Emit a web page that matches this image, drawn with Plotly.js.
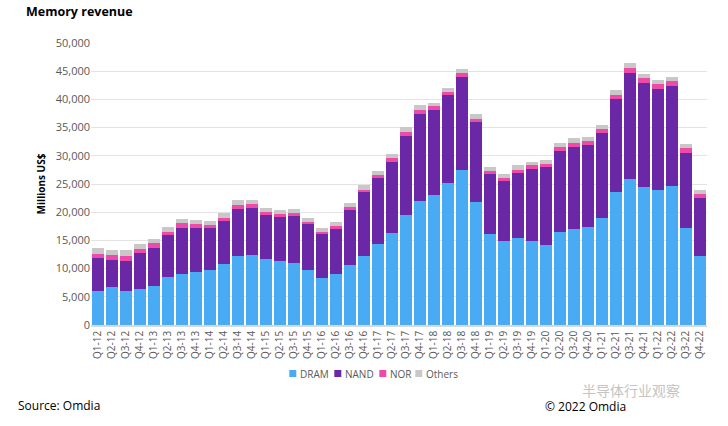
<!DOCTYPE html>
<html>
<head>
<meta charset="utf-8">
<script src="https://cdn.plot.ly/plotly-3.0.1.min.js"></script>
<style>html,body{margin:0;padding:0;background:#fff}#chart{width:728px;height:426px}</style>
</head>
<body>
<div id="chart"></div>
<script>
const quarters = ["Q1-12","Q2-12","Q3-12","Q4-12","Q1-13","Q2-13","Q3-13","Q4-13","Q1-14","Q2-14","Q3-14","Q4-14",
  "Q1-15","Q2-15","Q3-15","Q4-15","Q1-16","Q2-16","Q3-16","Q4-16","Q1-17","Q2-17","Q3-17","Q4-17",
  "Q1-18","Q2-18","Q3-18","Q4-18","Q1-19","Q2-19","Q3-19","Q4-19","Q1-20","Q2-20","Q3-20","Q4-20",
  "Q1-21","Q2-21","Q3-21","Q4-21","Q1-22","Q2-22","Q3-22","Q4-22"];
const dram = [6000,6750,6100,6450,6850,8450,9100,9450,9750,10850,12250,12350,
  11650,11300,11050,9800,8350,9000,10600,12300,14400,16400,19500,22050,
  23100,25250,27500,21850,16050,14850,15400,14850,14150,16500,17050,17400,
  19000,23550,25900,24450,23950,24650,17150,12200];
const nand = [5800,4850,5250,6300,6800,7450,8150,7700,7400,7600,8350,8450,
  7800,7800,8300,8100,7800,8050,9800,11200,11700,12550,14100,15450,
  14950,15550,16450,14200,10750,10600,11550,12850,13850,14400,14550,14450,
  15100,16450,18750,18400,17900,17800,13400,10400];
const nor = [770,830,950,770,830,650,830,710,590,530,710,710,
  650,650,470,410,360,470,470,470,470,650,650,710,
  710,530,710,470,530,590,590,590,590,710,710,710,
  650,770,950,890,890,890,890,710];
const others = [1070,880,1000,890,770,830,770,770,770,830,830,650,
  590,650,770,650,710,710,770,830,710,710,830,710,
  650,770,770,890,710,710,770,650,650,590,770,770,
  710,830,830,830,770,710,710,590];
const yTicks = [0,5000,10000,15000,20000,25000,30000,35000,40000,45000,50000];
const seriesNames = ["DRAM", "NAND", "NOR", "Others"];
const seriesColors = ["#4AABF5", "#6A28A6", "#EE4BA8", "#C8C8C8"];

const FONT = "Open Sans, Liberation Sans, sans-serif";
const W = 728, H = 426, M = {l: 91, r: 21, t: 43, b: 101};
const PW = W - M.l - M.r, PH = H - M.t - M.b;
const px = X => (X - M.l) / PW;      // pixel x -> paper x
const py = Y => (H - M.b - Y) / PH;  // pixel y -> paper y

const values = [dram, nand, nor, others];
const data = seriesNames.map((name, i) => ({
  type: "bar", name: name, x: quarters, y: values[i],
  marker: {color: seriesColors[i], line: {width: 0}},
  hovertemplate: "%{x}<br>" + name + ": %{y:,}<extra></extra>"
}));

// legend drawn as swatches + labels, placed as in the reference
const legendX = [289.3, 334.3, 379.3, 415.3];
const shapes = [], annotations = [];
seriesNames.forEach((name, i) => {
  shapes.push({type: "rect", xref: "paper", yref: "paper", x0: px(legendX[i]), x1: px(legendX[i] + 7),
    y0: py(377), y1: py(370), fillcolor: seriesColors[i], line: {width: 0}});
  annotations.push({text: name, xref: "paper", yref: "paper", x: px(legendX[i] + 8.5), y: py(373.5),
    xanchor: "left", yanchor: "middle", showarrow: false, font: {family: FONT, size: 10, color: "#595959"}});
});
annotations.push(
  {text: "<b>Memory revenue</b>", xref: "paper", yref: "paper", x: px(24), y: py(11), xanchor: "left", yanchor: "middle",
    showarrow: false, font: {family: FONT, size: 12.5, color: "#000"}},
  {text: "Source: Omdia", xref: "paper", yref: "paper", x: px(16), y: py(405), xanchor: "left", yanchor: "middle",
    showarrow: false, font: {family: FONT, size: 12, color: "#000"}},
  {text: "半导体行业观察", xref: "paper", yref: "paper", x: px(580), y: py(390), xanchor: "left", yanchor: "middle",
    showarrow: false, font: {family: "Noto Sans CJK SC, sans-serif", size: 14, color: "#c4c4c4"}},
  {text: "© 2022 Omdia", xref: "paper", yref: "paper", x: px(543), y: py(407), xanchor: "left", yanchor: "middle",
    showarrow: false, font: {family: FONT, size: 12, color: "#000"}}
);

const layout = {
  width: W, height: H, margin: M,
  barmode: "stack", bargap: 0.21,
  paper_bgcolor: "#fff", plot_bgcolor: "#fff",
  showlegend: false,
  xaxis: {type: "category", tickangle: -90, tickfont: {family: FONT, size: 10, color: "#595959"},
    showgrid: false, showline: true, linecolor: "#d9d9d9", linewidth: 1.5, ticks: "", automargin: false},
  yaxis: {range: [0, 50000], tickvals: yTicks, ticktext: yTicks.map(v => v.toLocaleString("en-US")),
    tickfont: {family: FONT, size: 11, color: "#595959"}, showgrid: true, gridcolor: "#e3e3e3", gridwidth: 1,
    zeroline: false, ticks: "", automargin: false,
    title: {text: "<b>Millions US$</b>", font: {family: FONT, size: 10, color: "#000"}, standoff: 8}},
  shapes: shapes,
  annotations: annotations
};
Plotly.newPlot("chart", data, layout, {displayModeBar: false});
</script>
</body>
</html>
